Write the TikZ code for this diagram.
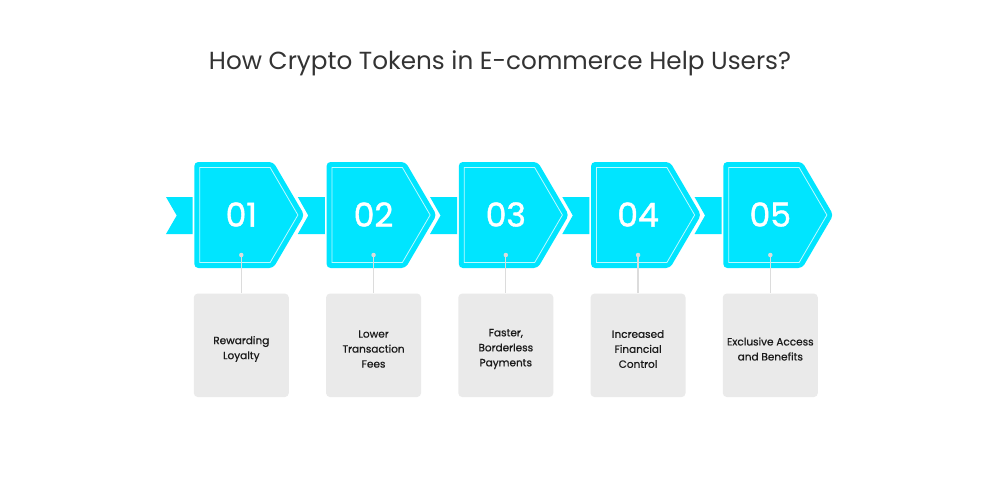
\documentclass[tikz,border=0pt]{standalone}
\usepackage{fontspec}
\setmainfont{Poppins}
\newfontfamily\medfont{Poppins}[FakeBold=0.7]
\newfontfamily\numfont{Poppins}[FakeBold=1.2]
\definecolor{cy}{HTML}{00E5FF}
\definecolor{boxgray}{HTML}{EAEAEA}
\definecolor{linegray}{HTML}{DCDCDC}
\definecolor{titlegray}{HTML}{333333}
\definecolor{labelgray}{HTML}{1A1A1A}
\begin{document}
\begin{tikzpicture}[x=1pt,y=-1pt,
  penta/.style={fill=cy, rounded corners=4pt},
  innerline/.style={draw=white, opacity=0.75, line width=0.8pt},
  band/.style={fill=cy},
  num/.style={text=white, font=\numfont\fontsize{33}{33}\selectfont, inner sep=0pt},
  card/.style={fill=boxgray, rounded corners=4pt, minimum width=95pt, minimum height=103.5pt, inner sep=0pt},
  lbl/.style={text=labelgray, align=center, font=\medfont\fontsize{10.5}{15}\selectfont, inner sep=0pt},
  dotnode/.style={circle, fill=linegray, inner sep=0pt, minimum size=4.5pt},
  conn/.style={draw=linegray, line width=1.3pt}]
\useasboundingbox[fill=white] (0,0) rectangle (1000,500);
\node[font=\fontsize{24.7}{30}\selectfont, text=titlegray] (title) at (500,63) {How Crypto Tokens in E-commerce Help Users?};
% left ribbon end
\fill[band] (166,197) -- (192.5,197) -- (192.5,234) -- (166,234) -- (176.7,215.5) -- cycle;
% bands between
\foreach \i [evaluate=\i as \x using 194.3+(\i-1)*132.25] in {1,2,3,4}{
  \fill[band] (\x+103.5,197) -- (\x+130.5,197) -- (\x+130.5,234) -- (\x+103.5,234) -- (\x+114,215.5) -- cycle;
}
\foreach \i/\lab [evaluate=\i as \x using 194.3+(\i-1)*132.25] in
  {1/{Rewarding\\Loyalty}, 2/{Lower\\Transaction\\Fees}, 3/{Faster,\\Borderless\\Payments}, 4/{Increased\\Financial\\Control}, 5/{Exclusive Access\\and Benefits}}{
  \fill[penta] (\x,162) -- ++(79,0) -- ++(31,53) -- ++(-31,53) -- ++(-79,0) -- cycle;
  \draw[innerline] (\x+5.5,167.5) -- (\x+75.85,167.5) -- (\x+103.6,215) -- (\x+75.85,262.5) -- (\x+5.5,262.5) -- cycle;
  \node[num] (n\i) at (\x+47,214.5) {0\i};
  \node[dotnode] (d\i) at (\x+47,255) {};
  \node[card] (b\i) at (\x+47,345.3) {};
  \node[lbl] (l\i) at (\x+47,349) {\lab};
  \draw[conn] (d\i) -- (b\i);
}
\end{tikzpicture}
\end{document}
